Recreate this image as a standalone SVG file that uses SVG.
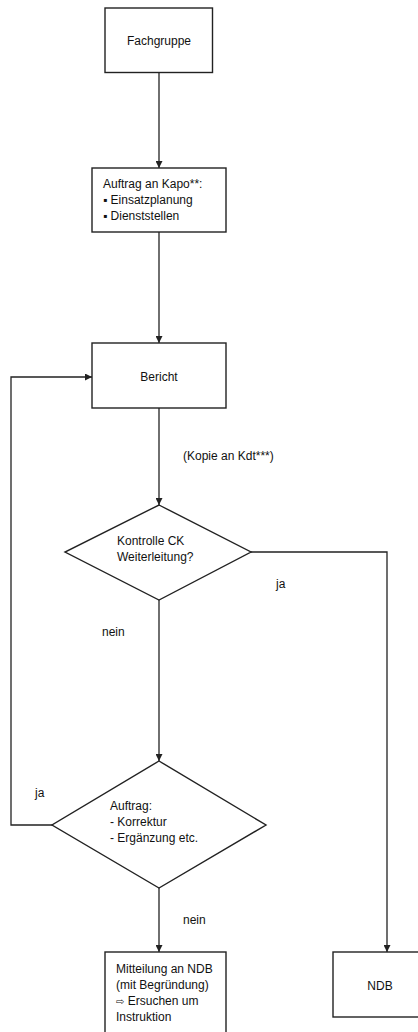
<svg xmlns="http://www.w3.org/2000/svg" width="418" height="1032" viewBox="0 0 418 1032">
<style>
.n{fill:#fff;stroke:#222;stroke-width:1.4}
.c{fill:none;stroke:#222;stroke-width:1.3}
text{font-family:"Liberation Sans",Arial,sans-serif;font-size:12px;fill:#111}
.m{text-anchor:middle}
</style>
<defs>
<marker id="ah" viewBox="0 0 10 10" refX="10" refY="5" markerWidth="7" markerHeight="7" markerUnits="userSpaceOnUse" orient="auto"><path d="M0,0L10,5L0,10z" fill="#222"/></marker>
</defs>
<rect width="418" height="1032" fill="#fff"/>
<g id="connectors">
<line class="c" x1="159" y1="72.5" x2="159" y2="168" marker-end="url(#ah)"/>
<line class="c" x1="159" y1="232" x2="159" y2="343" marker-end="url(#ah)"/>
<line class="c" x1="159" y1="408" x2="159" y2="505" marker-end="url(#ah)"/>
<polyline class="c" points="251,552 387,552 387,952" marker-end="url(#ah)"/>
<line class="c" x1="159" y1="600" x2="159" y2="761" marker-end="url(#ah)"/>
<polyline class="c" points="52,825 11,825 11,377 92,377" marker-end="url(#ah)"/>
<line class="c" x1="159" y1="888" x2="159" y2="952" marker-end="url(#ah)"/>
<text x="183" y="460">(Kopie an Kdt***)</text>
<text x="276" y="588">ja</text>
<text x="102" y="636">nein</text>
<text x="35" y="797">ja</text>
<text x="183" y="924">nein</text>
</g>
<g id="fachgruppe">
<rect class="n" x="105" y="8" width="107.5" height="64.5"/>
<text class="m" x="159" y="45">Fachgruppe</text>
</g>
<g id="auftrag-kapo">
<rect class="n" x="92" y="168" width="134" height="64"/>
<text x="103" y="188">Auftrag an Kapo**:</text>
<text x="103" y="204">▪ Einsatzplanung</text>
<text x="103" y="220">▪ Dienststellen</text>
</g>
<g id="bericht">
<rect class="n" x="92" y="343" width="134" height="65"/>
<text class="m" x="159" y="381">Bericht</text>
</g>
<g id="kontrolle">
<polygon class="n" points="159,505 251,552 159,600 65,552"/>
<text x="117" y="545">Kontrolle CK</text>
<text x="117" y="561">Weiterleitung?</text>
</g>
<g id="auftrag-korrektur">
<polygon class="n" points="159,761 266,825 159,888 52,825"/>
<text x="110" y="810">Auftrag:</text>
<text x="110" y="826">- Korrektur</text>
<text x="110" y="842">- Ergänzung etc.</text>
</g>
<g id="mitteilung">
<rect class="n" x="105" y="952" width="121" height="95"/>
<text x="116" y="973">Mitteilung an NDB</text>
<text x="116" y="989">(mit Begründung)</text>
<text x="116" y="1005"><tspan style="font-family:'DejaVu Sans',sans-serif;font-size:10px">⇨</tspan> Ersuchen um</text>
<text x="116" y="1021">Instruktion</text>
</g>
<g id="ndb">
<rect class="n" x="333" y="952" width="108" height="65"/>
<text class="m" x="380" y="990">NDB</text>
</g>
</svg>
